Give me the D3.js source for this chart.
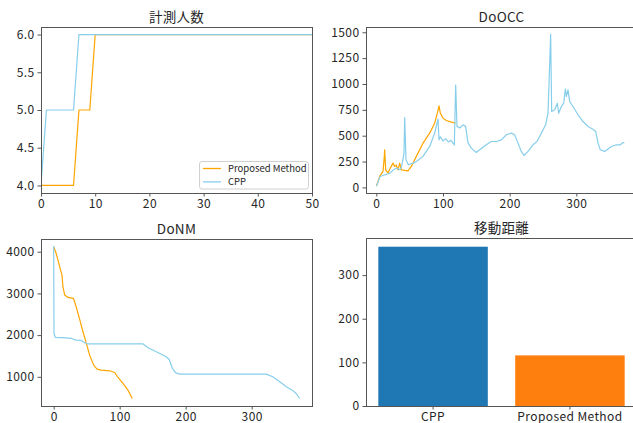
<!DOCTYPE html>
<html><head><meta charset="utf-8">
<script src="https://cdn.jsdelivr.net/npm/d3@7"></script>
<style>
html,body{margin:0;padding:0;background:#fff;}
svg{display:block;}
text{font-family:"Noto Sans CJK JP","Noto Sans",sans-serif;fill:#262626;}
</style></head>
<body>
<svg id="chart" width="633" height="423"></svg>
<script>
// ---- data ----
const seriesNames = ["Proposed Method", "CPP"];
const lineColors = ["orange", "skyblue"];
const barColors = ["#1f77b4", "#ff7f0e"];

// 計測人数
const countPropX = [0, 6, 7, 9, 10, 119];
const countPropY = [4, 4, 5, 5, 6, 6];
const countCppX  = [0, 1, 6, 7, 372];
const countCppY  = [4, 5, 5, 6, 6];
const countXTicks = [0, 10, 20, 30, 40, 50];
const countYTicks = [4.0, 4.5, 5.0, 5.5, 6.0];

// DoOCC
const doccPropX = [0, 1, 5, 10, 12, 12.5, 14, 17.5, 21, 25, 27.5, 30, 32.5, 35, 37.5, 42.5, 47.5, 52.5, 60, 70, 80, 87.5, 91.5, 94, 96, 100, 105, 112.5, 119];
const doccPropY = [20, 26, 106, 155, 300, 364, 170, 140, 187, 235, 203, 215, 170, 235, 170, 164, 160, 203, 300, 428, 525, 621, 718, 789, 718, 670, 647, 631, 621];
const doccCppX = [0, 5.5, 13, 20.5, 25.5, 30.5, 35.5, 38, 41.5, 42.5, 44.5, 48, 55, 60, 70, 80, 87.5, 92.5, 94, 96, 100, 104, 108, 112, 117, 119, 121, 125, 130, 134, 137.5, 142.5, 150, 155, 165, 172.5, 180, 187.5, 195, 202.5, 207.5, 212.5, 217.5, 221.5, 227.5, 235, 241, 247.5, 254, 257.5, 261.5, 263, 267.5, 271.5, 273.5, 277.5, 281, 283.5, 285, 287.5, 290, 295, 302.5, 310, 317.5, 325, 329, 332.5, 336, 342.5, 352.5, 360, 366, 370, 372];
const doccCppY = [10, 106, 122, 138, 170, 187, 170, 203, 331, 676, 267, 219, 235, 250, 300, 396, 525, 660, 460, 490, 450, 470, 440, 455, 410, 990, 590, 575, 605, 590, 430, 380, 338, 364, 412, 444, 444, 460, 509, 525, 509, 428, 348, 309, 348, 412, 444, 525, 605, 718, 1480, 734, 750, 814, 718, 782, 814, 950, 879, 943, 830, 782, 702, 637, 589, 563, 541, 428, 364, 348, 396, 412, 412, 434, 430];
const doccXTicks = [0, 100, 200, 300];
const doccYTicks = [0, 250, 500, 750, 1000, 1250, 1500];

// DoNM
const donmPropX = [0, 3, 6.5, 10.5, 12.6, 14, 16.7, 21.7, 30, 34, 39, 44.4, 49.5, 54.5, 60.6, 65.7, 72, 85, 92.4, 97.5, 105, 112.6, 119];
const donmPropY = [4120, 4000, 3800, 3560, 3440, 3160, 2960, 2904, 2880, 2680, 2400, 2080, 1800, 1520, 1280, 1184, 1160, 1144, 1104, 984, 840, 680, 480];
const donmCppX = [0, 0.5, 2.5, 19, 27, 34, 42, 47, 50.5, 70, 135, 143, 155.5, 170.5, 175, 180, 185, 191, 322, 332, 342.5, 352.5, 361.5, 367.5, 372.7];
const donmCppY = [4136, 2040, 1944, 1936, 1920, 1880, 1872, 1816, 1792, 1792, 1792, 1696, 1600, 1480, 1416, 1200, 1096, 1064, 1064, 1000, 880, 760, 680, 600, 480];
const donmXTicks = [0, 100, 200, 300];
const donmYTicks = [1000, 2000, 3000, 4000];

// 移動距離
const barCategories = ["CPP", "Proposed Method"];
const barValues = [365, 116];
const barYTicks = [0, 100, 200, 300];

const titles = ["計測人数", "DoOCC", "DoNM", "移動距離"];

// ---- drawing ----
const svg = d3.select("#chart");
const spineColor = "#555";

function panel(box, title, id) {
  const g = svg.append("g");
  svg.append("defs").append("clipPath").attr("id", id)
    .append("rect").attr("x", box.x0).attr("y", box.y0)
    .attr("width", box.x1 - box.x0).attr("height", box.y1 - box.y0);
  g.append("text").attr("x", (box.x0 + box.x1) / 2).attr("y", box.y0 - 5)
    .attr("text-anchor", "middle").style("font-size", "13.5px").style("letter-spacing", "0.3px").text(title);
  return g;
}
function spines(g, box) {
  g.append("rect").attr("x", box.x0 + 0.5).attr("y", box.y0 + 0.5)
    .attr("width", box.x1 - box.x0).attr("height", box.y1 - box.y0)
    .attr("fill", "none").attr("stroke", spineColor).attr("stroke-width", 1);
}
function axes(g, box, x, y, xt, yt, yfmt) {
  const ax = g.append("g").attr("transform", `translate(0,${box.y1})`)
    .call(d3.axisBottom(x).tickValues(xt).tickSize(3.5).tickPadding(3).tickSizeOuter(0));
  const ay = g.append("g").attr("transform", `translate(${box.x0},0)`)
    .call(d3.axisLeft(y).tickValues(yt).tickSize(3.5).tickPadding(3).tickSizeOuter(0).tickFormat(yfmt || (d => d)));
  [ax, ay].forEach(a => {
    a.select(".domain").remove();
    a.selectAll(".tick line").attr("stroke", spineColor);
    a.selectAll(".tick text").style("font-size", "12px").style("letter-spacing", "0.4px").attr("fill", "#262626").style("font-family", '"Noto Sans CJK JP","Noto Sans",sans-serif');
  });
}
function line(g, x, y, xs, ys, color, clipId) {
  const data = xs.map((v, i) => [v, ys[i]]);
  g.append("path").datum(data)
    .attr("d", d3.line().x(d => x(d[0])).y(d => y(d[1])))
    .attr("fill", "none").attr("stroke", color).attr("stroke-width", 1.2)
    .attr("stroke-linejoin", "round")
    .attr("clip-path", `url(#${clipId})`);
}

// Panel 1
const b1 = {x0: 41, x1: 312, y0: 27, y1: 193};
const g1 = panel(b1, titles[0], "c1");
const x1 = d3.scaleLinear().domain([0, 50]).range([b1.x0, b1.x1]);
const y1 = d3.scaleLinear().domain([3.9, 6.1]).range([b1.y1, b1.y0]);
line(g1, x1, y1, countPropX, countPropY, lineColors[0], "c1");
line(g1, x1, y1, countCppX, countCppY, lineColors[1], "c1");
spines(g1, b1);
axes(g1, b1, x1, y1, countXTicks, countYTicks, d3.format(".1f"));
// legend
const lg = g1.append("g");
lg.append("rect").attr("x", 199.5).attr("y", 161.5).attr("width", 109).attr("height", 27.5)
  .attr("rx", 2.5).attr("fill", "white").attr("fill-opacity", 0.8).attr("stroke", "#d0d0d0").attr("stroke-width", 1);
seriesNames.forEach((n, i) => {
  const yy = 168.5 + i * 13.4;
  lg.append("line").attr("x1", 203).attr("x2", 221).attr("y1", yy).attr("y2", yy)
    .attr("stroke", lineColors[i]).attr("stroke-width", 1.3);
  lg.append("text").attr("x", 228).attr("y", yy).attr("dy", "0.35em").style("font-size", "9.5px").text(n);
});

// Panel 2
const b2 = {x0: 366, x1: 637, y0: 27, y1: 193};
const g2 = panel(b2, titles[1], "c2");
const x2 = d3.scaleLinear().domain([-15.5, 391]).range([b2.x0, b2.x1]);
const y2 = d3.scaleLinear().domain([-54, 1551]).range([b2.y1, b2.y0]);
line(g2, x2, y2, doccPropX, doccPropY, lineColors[0], "c2");
line(g2, x2, y2, doccCppX, doccCppY, lineColors[1], "c2");
spines(g2, b2);
axes(g2, b2, x2, y2, doccXTicks, doccYTicks);

// Panel 3
const b3 = {x0: 41, x1: 312, y0: 239, y1: 406};
const g3 = panel(b3, titles[2], "c3");
const x3 = d3.scaleLinear().domain([-19.2, 391.4]).range([b3.x0, b3.x1]);
const y3 = d3.scaleLinear().domain([300, 4305]).range([b3.y1, b3.y0]);
line(g3, x3, y3, donmPropX, donmPropY, lineColors[0], "c3");
line(g3, x3, y3, donmCppX, donmCppY, lineColors[1], "c3");
spines(g3, b3);
axes(g3, b3, x3, y3, donmXTicks, donmYTicks);

// Panel 4
const b4 = {x0: 366, x1: 637, y0: 238, y1: 406};
const g4 = panel(b4, titles[3], "c4");
const x4 = d3.scaleBand().domain(barCategories).range([b4.x0, b4.x1]).paddingInner(0.2).paddingOuter(0.09);
const y4 = d3.scaleLinear().domain([0, 385]).range([b4.y1, b4.y0]);
g4.selectAll("rect.bar").data(barCategories).enter().append("rect").attr("class", "bar")
  .attr("x", d => x4(d)).attr("width", x4.bandwidth())
  .attr("y", (d, i) => y4(barValues[i])).attr("height", (d, i) => y4(0) - y4(barValues[i]))
  .attr("fill", (d, i) => barColors[i]);
spines(g4, b4);
axes(g4, b4, x4, y4, barCategories, barYTicks);
</script>
</body></html>
